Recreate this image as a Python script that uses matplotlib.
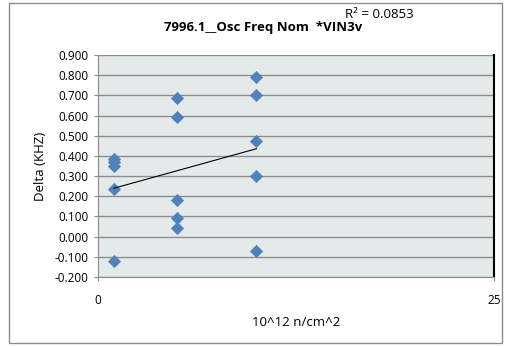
import numpy as np
import matplotlib
matplotlib.use('Agg')
import matplotlib.pyplot as plt
from matplotlib.patches import Rectangle

# fluence (10^12 n/cm^2) and frequency delta (KHZ)
fluence = [1, 1, 1, 1, 1, 5, 5, 5, 5, 5, 10, 10, 10, 10, 10]
delta = [0.385, 0.370, 0.350, 0.235, -0.120,
         0.685, 0.595, 0.180, 0.090, 0.045,
         0.790, 0.700, 0.475, 0.300, -0.070]
y_ticks = [-0.2, -0.1, 0.0, 0.1, 0.2, 0.3, 0.4, 0.5, 0.6, 0.7, 0.8, 0.9]
x_ticks = [0, 25]
r2_label = 'R² = 0.0853'

plt.rcParams['font.family'] = ['Open Sans', 'DejaVu Sans']

fig = plt.figure(figsize=(5.05, 3.46), dpi=100)
fig.patches.append(Rectangle((9 / 505, 3 / 346), 493 / 505, 340 / 346, transform=fig.transFigure,
                             fill=False, edgecolor='#8c8c8c', linewidth=1))

ax = fig.add_axes([98 / 505, 1 - 277 / 346, 396 / 505, 222 / 346])
ax.set_facecolor('#e4eaea')
ax.scatter(fluence, delta, marker='D', s=45, color='#4f81bd', zorder=3, linewidths=0)

# linear trendline
x = np.array(fluence, dtype=float)
y = np.array(delta)
m, b = np.polyfit(x, y, 1)
xs = np.array([min(x), max(x)])
ax.plot(xs, m * xs + b, color='black', linewidth=0.8, zorder=4)

ax.set_xlim(0, 25)
ax.set_ylim(-0.2, 0.9)
ax.set_xticks(x_ticks)
ax.set_yticks(y_ticks)
ax.set_yticklabels(['%.3f' % v for v in y_ticks])
ax.yaxis.grid(True, color='#8c8c8c', linewidth=1)
ax.set_axisbelow(True)
ax.tick_params(labelsize=8.5, length=3, color='#8c8c8c', pad=4)
ax.tick_params(axis='x', pad=9)
ax.spines['top'].set_visible(False)
ax.spines['left'].set_color('#8c8c8c')
ax.spines['bottom'].set_color('#8c8c8c')
ax.spines['right'].set_color('black')
ax.spines['right'].set_linewidth(1.5)

ax.set_xlabel('10^12 n/cm^2', fontsize=9.5, labelpad=7)
ax.set_ylabel('Delta (KHZ)', fontsize=9.5, labelpad=5)

fig.text(263 / 505, 1 - 27 / 346, '7996.1__Osc Freq Nom  *VIN3v', fontsize=9.5, fontweight='bold',
         ha='center', va='center')
fig.text(345 / 505, 1 - 15 / 346, r2_label, fontsize=9.5, ha='left', va='center')

fig.savefig('out.png', dpi=100)
